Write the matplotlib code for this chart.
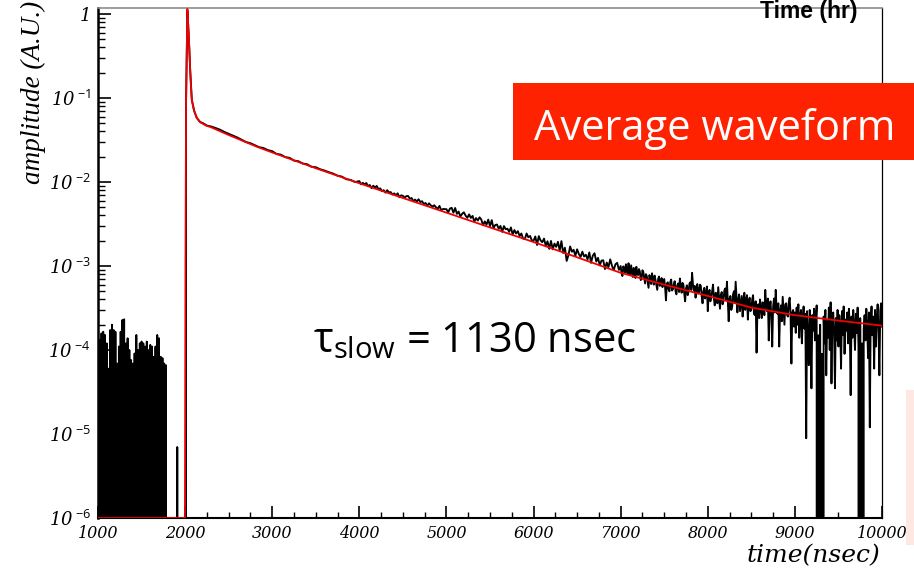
import numpy as np
import matplotlib
matplotlib.use("Agg")
import matplotlib.pyplot as plt
from matplotlib.patches import Rectangle
from matplotlib.ticker import LogLocator, NullFormatter, MultipleLocator

plt.rcParams['mathtext.fontset'] = 'custom'
plt.rcParams['mathtext.rm'] = 'Open Sans'
plt.rcParams['mathtext.it'] = 'DejaVu Serif:italic'
plt.rcParams['mathtext.bf'] = 'Open Sans:bold'

W, H = 914, 576

# ---------------- data ----------------
# baseline noise before the pulse (sampled every 10 ns)
noise_t = np.arange(1000, 1790, 10)
noise_amp = [2.0e-4, 0, 1.32e-4, 0, 1.58e-4, 0, 1.65e-4, 0, 1.51e-4, 0,
             1.2e-4, 0, 6.0e-5, 0, 1.73e-4, 0, 2.0e-4, 0, 1.73e-4, 0,
             1.65e-4, 0, 6.9e-5, 0, 1.1e-4, 0, 1.65e-4, 0, 2.28e-4, 0,
             2.32e-4, 0, 1.2e-4, 0, 1.38e-4, 0, 1.0e-4, 0, 7.6e-5, 0,
             6.9e-5, 0, 9.1e-5, 0, 1.51e-4, 0, 1.0e-4, 0, 1.2e-4, 0,
             1.26e-4, 0, 1.2e-4, 0, 1.1e-4, 0, 1.26e-4, 0, 1.0e-4, 0,
             1.15e-4, 0, 1.1e-4, 0, 8.3e-5, 0, 1.1e-4, 0, 1.51e-4, 0,
             1.38e-4, 0, 8.3e-5, 0, 8.0e-5, 0, 6.9e-5, 0, 6.6e-5]

# pulse region
pulse_t = [1790, 1900, 1910, 1920, 2000, 2011, 2019, 2026, 2040, 2057, 2077, 2105, 2134, 2170]
pulse_amp = [0, 0, 7e-6, 0, 0, 0.09, 0.35, 1.1, 0.6, 0.23, 0.095, 0.070, 0.058, 0.052]

# slow tail, 2200-3950 ns (50 ns)
tailA_t = np.arange(2200, 4000, 50)
tailA_amp = [0.0505, 0.0470, 0.0458, 0.0440, 0.0420, 0.0395, 0.0375, 0.0356, 0.0339, 0.0318,
             0.0299, 0.0290, 0.0275, 0.0260, 0.0254, 0.0240, 0.0233, 0.0216, 0.0212, 0.0198,
             0.0194, 0.0180, 0.0177, 0.0166, 0.0163, 0.0152, 0.0150, 0.0142, 0.0137, 0.0131,
             0.0126, 0.0119, 0.0116, 0.0108, 0.0106, 0.0100]

# 4000-6980 ns (20 ns)
tailB_t = np.arange(4000, 7000, 20)
tailB_amp = [0.01025, 0.00940, 0.00978, 0.00937, 0.00973,
             0.00895, 0.00921, 0.00844, 0.00904, 0.00859,
             0.00898, 0.00821, 0.00840, 0.00778, 0.00800,
             0.00747, 0.00800, 0.00753, 0.00759, 0.00710,
             0.00732, 0.00695, 0.00733, 0.00659, 0.00695,
             0.00685, 0.00651, 0.00680, 0.00682, 0.00632,
             0.00645, 0.00591, 0.00618, 0.00587, 0.00624,
             0.00577, 0.00591, 0.00547, 0.00563, 0.00521,
             0.00558, 0.00528, 0.00510, 0.00529, 0.00500,
             0.00481, 0.00520, 0.00461, 0.00477, 0.00476,
             0.00475, 0.00435, 0.00483, 0.00493, 0.00431,
             0.00491, 0.00418, 0.00445, 0.00388, 0.00418,
             0.00436, 0.00398, 0.00375, 0.00412, 0.00374,
             0.00395, 0.00338, 0.00372, 0.00348, 0.00380,
             0.00358, 0.00305, 0.00340, 0.00311, 0.00357,
             0.00298, 0.00352, 0.00282, 0.00308, 0.00312,
             0.00278, 0.00300, 0.00255, 0.00299, 0.00274,
             0.00278, 0.00255, 0.00288, 0.00237, 0.00268,
             0.00244, 0.00260, 0.00227, 0.00244, 0.00212,
             0.00209, 0.00244, 0.00220, 0.00228, 0.00202,
             0.00200, 0.00225, 0.00178, 0.00227, 0.00202,
             0.00192, 0.00212, 0.00174, 0.00197, 0.00160,
             0.00199, 0.00158, 0.00185, 0.00169, 0.00194,
             0.00153, 0.00198, 0.00143, 0.00165, 0.00115,
             0.00134, 0.00171, 0.00148, 0.00156, 0.00132,
             0.00158, 0.00139, 0.00128, 0.00148, 0.00130,
             0.00136, 0.00120, 0.00145, 0.00109, 0.00133,
             0.00142, 0.00113, 0.00125, 0.00102, 0.00116,
             0.00117, 0.00092, 0.00110, 0.00097, 0.00120,
             0.00101, 0.00089, 0.00105, 0.00109, 0.00090]

# 7000-8990 ns (10 ns)
tailC_t = np.arange(7000, 9000, 10)
tailC_amp = [1.00e-3, 8.2e-4, 7.6e-4, 9.9e-4, 9.4e-4, 8.4e-4, 1.05e-3, 9.0e-4, 8.0e-4, 1.08e-3,
             9.0e-4, 7.8e-4, 1.02e-3, 8.6e-4, 7.4e-4, 9.5e-4, 8.8e-4, 7.2e-4, 9.8e-4, 8.1e-4,
             7.8e-4, 9.2e-4, 8.6e-4, 6.8e-4, 7.0e-4, 8.9e-4, 8.5e-4, 7.3e-4, 6.2e-4, 8.0e-4,
             7.6e-4, 6.4e-4, 5.5e-4, 7.8e-4, 7.2e-4, 6.1e-4, 8.2e-4, 6.9e-4, 6.0e-4, 7.7e-4,
             6.8e-4, 5.9e-4, 5.2e-4, 7.0e-4, 7.5e-4, 5.8e-4, 6.3e-4, 7.2e-4, 5.6e-4, 6.6e-4,
             7.0e-4, 5.6e-4, 3.9e-4, 6.1e-4, 6.4e-4, 5.3e-4, 5.0e-4, 6.5e-4, 6.9e-4, 5.1e-4,
             5.3e-4, 6.0e-4, 6.6e-4, 5.0e-4, 4.6e-4, 5.9e-4, 6.2e-4, 4.9e-4, 7.1e-4, 5.6e-4,
             4.8e-4, 6.3e-4, 6.0e-4, 4.7e-4, 3.8e-4, 5.4e-4, 5.9e-4, 4.5e-4, 5.0e-4, 6.2e-4,
             6.4e-4, 5.2e-4, 8.3e-4, 6.0e-4, 5.1e-4, 5.8e-4, 4.2e-4, 5.5e-4, 6.1e-4, 4.7e-4,
             4.9e-4, 6.0e-4, 5.8e-4, 4.4e-4, 3.6e-4, 5.0e-4, 5.5e-4, 4.1e-4, 4.6e-4, 5.7e-4,
             2.9e-4, 4.6e-4, 5.2e-4, 3.8e-4, 4.3e-4, 5.0e-4, 6.0e-4, 4.1e-4, 3.4e-4, 4.8e-4,
             4.7e-4, 3.6e-4, 5.6e-4, 4.2e-4, 3.1e-4, 4.5e-4, 4.9e-4, 3.5e-4, 3.8e-4, 5.1e-4,
             5.4e-4, 4.0e-4, 6.5e-4, 3.9e-4, 2.2e-4, 4.1e-4, 4.4e-4, 3.0e-4, 3.3e-4, 4.6e-4,
             5.0e-4, 3.7e-4, 6.5e-4, 4.2e-4, 2.8e-4, 4.0e-4, 4.6e-4, 2.9e-4, 3.6e-4, 4.4e-4,
             2.5e-4, 3.9e-4, 4.8e-4, 3.0e-4, 3.9e-4, 4.5e-4, 2.3e-4, 3.6e-4, 4.2e-4, 2.9e-4,
             3.1e-4, 4.0e-4, 4.5e-4, 2.7e-4, 2.6e-4, 3.8e-4, 9.3e-5, 2.9e-4, 3.5e-4, 2.4e-4,
             4.0e-4, 3.2e-4, 2.4e-4, 3.7e-4, 3.3e-4, 2.6e-4, 5.2e-4, 3.4e-4, 2.9e-4, 4.1e-4,
             1.3e-4, 3.1e-4, 3.8e-4, 2.5e-4, 1.1e-4, 3.3e-4, 4.1e-4, 2.8e-4, 5.2e-4, 3.0e-4,
             2.7e-4, 3.6e-4, 1.1e-4, 2.9e-4, 3.4e-4, 2.2e-4, 4.3e-4, 3.0e-4, 2.0e-4, 3.5e-4,
             3.6e-4, 2.6e-4, 2.5e-4, 3.7e-4, 4.2e-4, 2.7e-4, 6.9e-5, 2.8e-4, 3.0e-4, 1.9e-4]

# 9000-10000 ns (10 ns)
tailD_t = np.arange(9000, 10001, 10)
tailD_amp = [2.8e-4, 1.6e-4, 3.2e-4, 2.0e-4, 3.5e-4, 1.4e-4, 2.6e-4, 3.0e-4, 1.2e-4, 2.4e-4,
             3.3e-4, 1.8e-4, 2.7e-4, 8.9e-6, 2.9e-4, 1.5e-4, 6.6e-5, 3.0e-4, 2.2e-4, 3.5e-5,
             2.6e-4, 1.7e-4, 3.1e-4, 1.3e-4, 2.3e-4, 3.4e-4, 0, 1.5e-4, 0, 2.0e-4,
             0, 9e-5, 0, 2.5e-4, 1.2e-4, 3.0e-4, 5e-5, 2.2e-4, 1.4e-4, 3.2e-4,
             1.0e-4, 3.7e-4, 4.0e-5, 2.1e-4, 2.8e-4, 1.6e-4, 3.5e-5, 2.4e-4, 1.3e-4, 3.0e-4,
             1.1e-4, 2.6e-4, 1.8e-4, 6.0e-5, 2.9e-4, 1.5e-4, 3.3e-4, 9e-5, 2.3e-4, 1.7e-4,
             2.8e-4, 1.2e-4, 3.1e-4, 2.0e-4, 2.9e-5, 2.5e-4, 1.4e-4, 3.0e-4, 1.9e-4, 1.0e-4,
             2.7e-4, 1.6e-4, 3.2e-4, 1.1e-4, 0, 2.4e-4, 0, 1.2e-4, 0, 1.8e-4,
             2.6e-4, 1.3e-4, 3.1e-4, 1.9e-4, 8e-5, 2.8e-4, 1.2e-5, 2.2e-4, 3.3e-4, 1.5e-4,
             2.5e-4, 6e-5, 3.0e-4, 1.1e-4, 2.4e-4, 3.5e-4, 1.7e-4, 5e-5, 2.9e-4, 3.6e-4,
             1.9e-4]

# fitted curve (red)
fit_t = [1000, 1998, 2004, 2011, 2019, 2026, 2032, 2040, 2050, 2057,
         2065, 2077, 2100, 2134, 2180, 2240, 2300, 2500, 2824, 3000,
         3500, 4000, 4500, 5000, 5500, 6000, 6500, 7000, 7500, 8000,
         8500, 9000, 9500, 10000]
fit_amp = [1e-6, 1e-6, 1e-3, 0.095, 0.37, 1.15, 0.9, 0.6, 0.37, 0.23,
           0.15, 0.095, 0.072, 0.058, 0.051, 0.047, 0.0448, 0.0363, 0.0263, 0.0225,
           0.0146, 0.00966, 0.00646, 0.00432, 0.00288, 0.00193, 0.00127, 0.00083, 0.0006, 0.00044,
           0.00032, 0.00026, 0.000224, 0.000195]

xticks = [1000, 2000, 3000, 4000, 5000, 6000, 7000, 8000, 9000, 10000]
xtick_labels = ['1000', '2000', '3000', '4000', '5000', '6000', '7000', '8000', '9000', '10000']
yticks = [1e-6, 1e-5, 1e-4, 1e-3, 1e-2, 1e-1, 1]
ytick_labels = [r'10$^{\;\mathit{-6}}$', r'10$^{\;\mathit{-5}}$', r'10$^{\;\mathit{-4}}$',
                r'10$^{\;\mathit{-3}}$', r'10$^{\;\mathit{-2}}$', r'10$^{\;\mathit{-1}}$', '1']

# ---------------- figure ----------------
wave_t = np.concatenate([noise_t, pulse_t, tailA_t, tailB_t, tailC_t, tailD_t])
wave_amp = np.concatenate([noise_amp, pulse_amp, tailA_amp, tailB_amp, tailC_amp, tailD_amp])

fig = plt.figure(figsize=(W / 100, H / 100), dpi=100)
ax = fig.add_axes([98 / W, 58 / H, (882 - 98) / W, (518 - 8) / H])
ax.set_yscale('log')
ax.plot(wave_t, wave_amp, color='black', lw=1.35, zorder=2)
ax.plot(fit_t, fit_amp, color='#f00000', lw=1.3, zorder=3)
ax.set_xlim(1000, 10000)
ax.set_ylim(1e-6, 1.18)

ax.spines['left'].set_linewidth(1.8)
ax.spines['bottom'].set_linewidth(1.5)
ax.spines['top'].set_color('#8c8c8c')
ax.spines['top'].set_linewidth(1.2)
ax.spines['right'].set_linewidth(0.9)

ax.set_xticks(xticks)
ax.set_xticklabels(xtick_labels, fontfamily='DejaVu Serif', fontstyle='italic', fontsize=11.5)
ax.xaxis.set_minor_locator(MultipleLocator(250))
ax.set_yticks(yticks)
ax.set_yticklabels(ytick_labels, fontfamily='DejaVu Serif', fontstyle='italic', fontsize=13)
ax.yaxis.set_minor_locator(LogLocator(base=10, subs=np.arange(2, 10)))
ax.yaxis.set_minor_formatter(NullFormatter())
ax.tick_params(axis='x', which='major', direction='in', length=9, width=1.2, pad=5, top=False)
ax.tick_params(axis='x', which='minor', direction='in', length=4.5, width=1.0, top=False)
ax.tick_params(axis='y', which='major', direction='in', length=9.5, width=1.2, pad=5, right=False)
ax.tick_params(axis='y', which='minor', direction='in', length=5, width=1.0, right=False)

# texts
fig.text(33 / W, 1 - 1 / H, 'amplitude (A.U.)', rotation=90, ha='center', va='top',
         fontfamily='Liberation Serif', fontstyle='italic', fontsize=19.5)
fig.text(880 / W, 1 - 562 / H, 'time(nsec)', ha='right', va='baseline',
         fontfamily='DejaVu Serif', fontstyle='italic', fontsize=18)
fig.text(809 / W, 1 - 18 / H, 'Time (hr)', ha='center', va='baseline',
         fontfamily='Liberation Sans', fontweight='bold', fontsize=16.5, zorder=6)

fig.patches.append(Rectangle((513 / W, 1 - 160 / H), (914 - 513) / W, 77 / H,
                             transform=fig.transFigure, facecolor='#ff2200',
                             edgecolor='none', zorder=5))
fig.text(715 / W, 1 - 140 / H, 'Average waveform', ha='center', va='baseline',
         color='white', fontfamily='Open Sans', fontsize=30, zorder=6)
fig.text(313 / W, 1 - 352 / H, r'$\mathrm{\tau}_{\mathrm{slow}}$ = 1130 nsec', ha='left',
         va='baseline', color='black', fontfamily='Open Sans', fontsize=30, zorder=6)
fig.patches.append(Rectangle((906 / W, 1 - 545 / H), 8 / W, 155 / H,
                             transform=fig.transFigure, facecolor='#fde8e4',
                             edgecolor='none', zorder=1))

fig.savefig('out.png', dpi=100)
